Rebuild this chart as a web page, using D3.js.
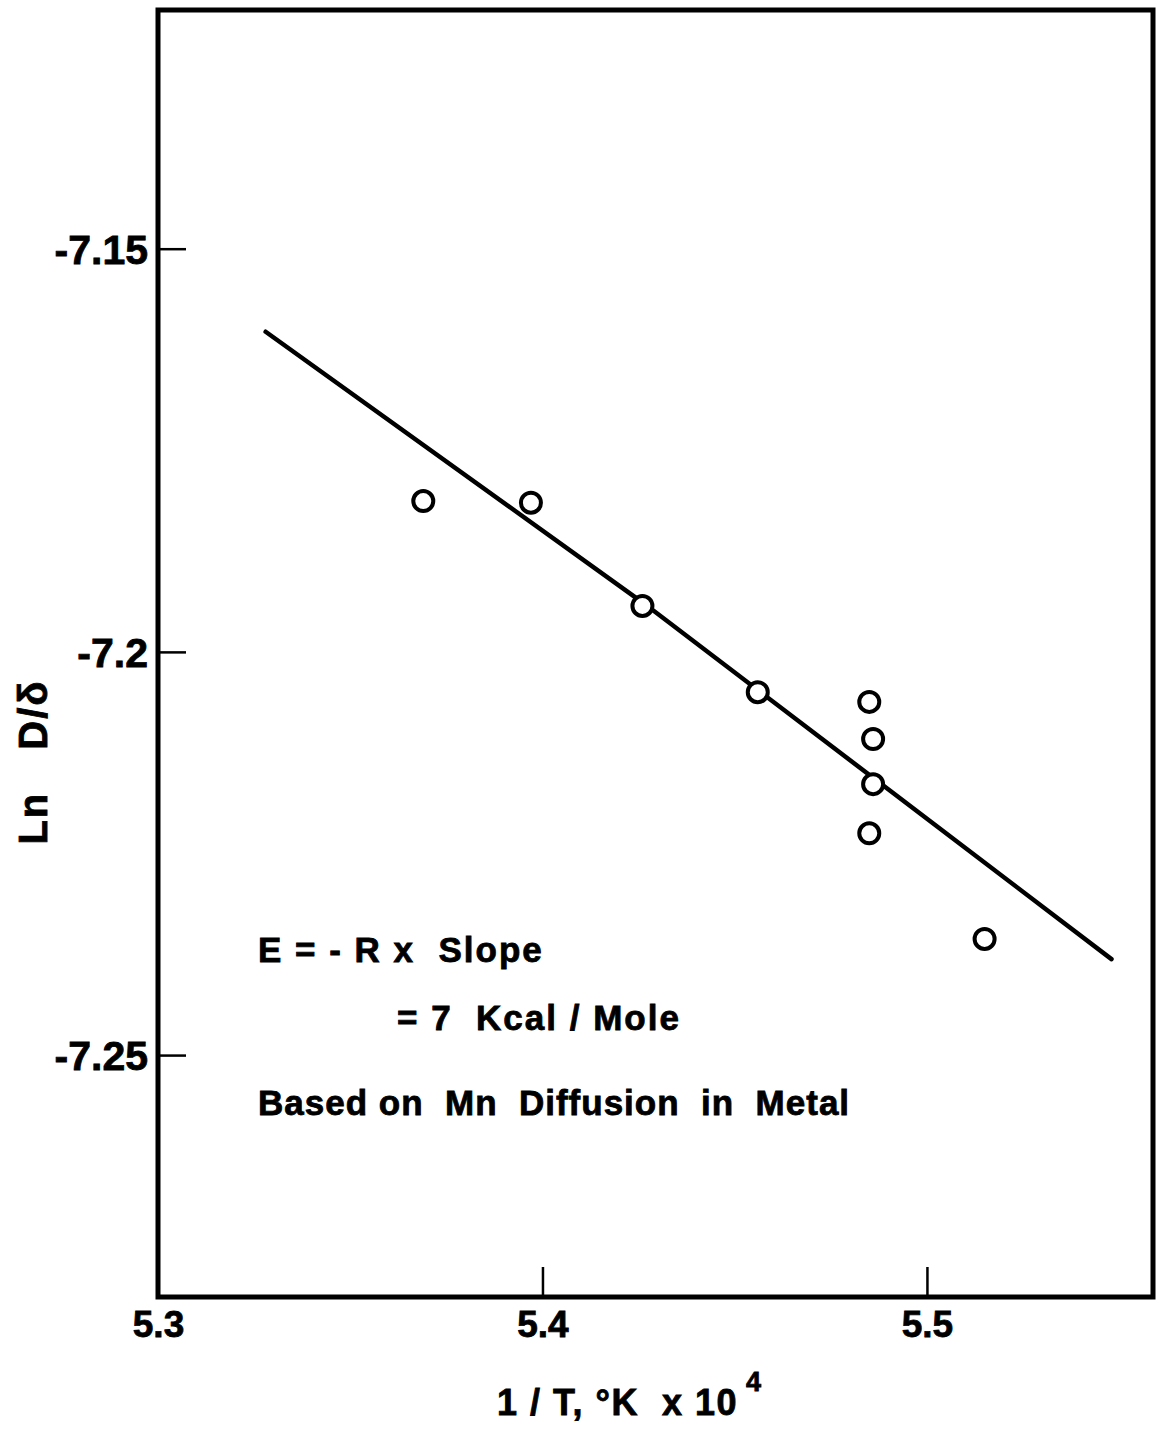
<!DOCTYPE html>
<html>
<head>
<meta charset="utf-8">
<script src="https://cdn.jsdelivr.net/npm/d3@7/dist/d3.min.js"></script>
<style>
  html, body { margin: 0; padding: 0; background: #fff; }
  svg { display: block; }
  text { font-family: "Liberation Sans", Arial, sans-serif; font-weight: bold; fill: #000; stroke: #000; stroke-width: 0.8px; }
</style>
</head>
<body>
<svg id="chart" width="1157" height="1430"></svg>
<script>
// ---- data ----
const xTicks = [5.3, 5.4, 5.5];
const xTickLabels = ["5.3", "5.4", "5.5"];
const yTicks = [-7.15, -7.2, -7.25];
const yTickLabels = ["-7.15", "-7.2", "-7.25"];

// measured points: 1/T (x 10^4) and Ln D/delta
const invT = [5.369, 5.397, 5.426, 5.456, 5.485, 5.486, 5.486, 5.485, 5.515];
const lnD  = [-7.1813, -7.1815, -7.1943, -7.2050, -7.2062, -7.2108, -7.2164, -7.2225, -7.2356];

// hand-drawn fit line
const fitX = [5.328, 5.4267, 5.548];
const fitY = [-7.1603, -7.1941, -7.2381];

const annotations = ["E = - R x  Slope", "= 7  Kcal / Mole", "Based on  Mn  Diffusion  in  Metal"];

// ---- layout ----
const svg = d3.select("#chart");
const mLeft = 158, mRight = 1153, mTop = 10, mBottom = 1297;
const xDomain = [5.3, 5.5588];
const yDomain = [-7.1204, -7.2800];

const x = d3.scaleLinear().domain(xDomain).range([mLeft, mRight]);
const y = d3.scaleLinear().domain(yDomain).range([mTop, mBottom]);

const fontFam = '"Liberation Sans", Arial, sans-serif';

// y axis ticks (inward)
const yAxis = d3.axisLeft(y).tickValues(yTicks).tickSizeInner(-28).tickSizeOuter(0)
  .tickPadding(10).tickFormat((d, i) => yTickLabels[i]);
const gy = svg.append("g").attr("transform", `translate(${mLeft},0)`).call(yAxis);
gy.select(".domain").remove();
gy.selectAll(".tick line").attr("stroke", "#000").attr("stroke-width", 2.5);
gy.selectAll(".tick text").attr("font-size", 41).attr("dy", "0.36em")
  .style("font-family", fontFam).style("font-weight", "bold").attr("fill", "#000");

// x axis ticks (inward)
const xAxis = d3.axisBottom(x).tickValues(xTicks).tickSizeInner(-30).tickSizeOuter(0)
  .tickPadding(14).tickFormat((d, i) => xTickLabels[i]);
const gx = svg.append("g").attr("transform", `translate(0,${mBottom})`).call(xAxis);
gx.select(".domain").remove();
gx.selectAll(".tick line").attr("stroke", "#000").attr("stroke-width", 2.5);
gx.selectAll(".tick text").attr("font-size", 37)
  .style("font-family", fontFam).style("font-weight", "bold").attr("fill", "#000");

// frame
svg.append("rect")
  .attr("x", x(xDomain[0])).attr("y", y(yDomain[0]))
  .attr("width", x(xDomain[1]) - x(xDomain[0])).attr("height", y(yDomain[1]) - y(yDomain[0]))
  .attr("fill", "none").attr("stroke", "#000").attr("stroke-width", 5);

// fit line
const line = d3.line().x(d => x(d[0])).y(d => y(d[1]));
svg.append("path")
  .datum(fitX.map((v, i) => [v, fitY[i]]))
  .attr("d", line)
  .attr("fill", "none").attr("stroke", "#000").attr("stroke-width", 4.5)
  .attr("stroke-linecap", "round");

// points
svg.append("g").selectAll("circle")
  .data(invT.map((v, i) => [v, lnD[i]]))
  .join("circle")
  .attr("cx", d => x(d[0])).attr("cy", d => y(d[1])).attr("r", 10)
  .attr("fill", "#fff").attr("stroke", "#000").attr("stroke-width", 4);

// annotations
const ann = svg.append("g").attr("font-size", 35);
ann.append("text").attr("x", 258).attr("y", 962).attr("letter-spacing", 2)
  .attr("xml:space", "preserve").text(annotations[0]);
ann.append("text").attr("x", 397).attr("y", 1030).attr("letter-spacing", 2)
  .attr("xml:space", "preserve").text(annotations[1]);
ann.append("text").attr("x", 258).attr("y", 1115).attr("letter-spacing", 1)
  .attr("xml:space", "preserve").text(annotations[2]);

// x axis title
const xt = svg.append("text").attr("x", 497).attr("y", 1415).attr("font-size", 36)
  .attr("letter-spacing", 1.5).attr("xml:space", "preserve");
xt.append("tspan").text("1 / T, \u00B0K  x 10");
xt.append("tspan").attr("font-size", 27).attr("dx", 8).attr("dy", -24).text("4");

// y axis title
svg.append("text")
  .attr("transform", "translate(47,762) rotate(-90)")
  .attr("text-anchor", "middle").attr("font-size", 40).attr("letter-spacing", 2)
  .text("Ln\u2003D/\u03B4");
</script>
</body>
</html>
